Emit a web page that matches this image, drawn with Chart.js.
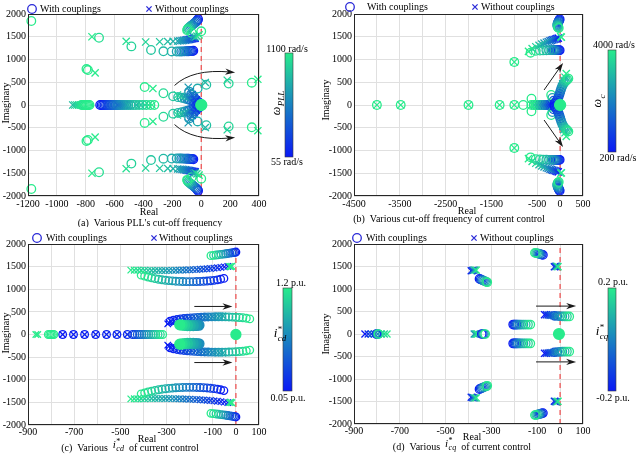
<!DOCTYPE html>
<html>
<head>
<meta charset="utf-8">
<script src="https://cdn.jsdelivr.net/npm/chart.js@4.4.1/dist/chart.umd.min.js"></script>
<style>
  body { margin: 0; background: #fff; width: 637px; height: 454px; position: relative; overflow: hidden; }
  canvas { position: absolute; }
</style>
</head>
<body>
<canvas id="ca" width="318" height="227" style="left:0;top:0"></canvas>
<canvas id="cb" width="319" height="227" style="left:318px;top:0"></canvas>
<canvas id="cc" width="318" height="227" style="left:0;top:227px"></canvas>
<canvas id="cd" width="319" height="227" style="left:318px;top:227px"></canvas>
<script>
// ticks
const yTicks = [-2000, -1500, -1000, -500, 0, 500, 1000, 1500, 2000];
const aXTicks = [-1200, -1000, -800, -600, -400, -200, 0, 200, 400];
const bXTicks = [-4500, -4000, -3500, -3000, -2500, -2000, -1500, -1000, -500, 0, 500];
const bXLabels = [-4500, -3500, -2500, -1500, -500, 0, 500];
const cdXTicks = [-900, -800, -700, -600, -500, -400, -300, -200, -100, 0, 100];
const cdXLabels = [-900, -700, -500, -300, -100, 0, 100];

// pole loci, upper half plane + real axis (conjugates are mirrored when drawn)
// order of each list: low parameter (blue) -> high parameter (green)

// (a) PLL cut-off frequency 55 .. 1100 rad/s
const aCirc1180 = [[-55,1192],[-62,1189],[-70,1186],[-78,1184],[-86,1182],[-95,1181],[-104,1180],[-114,1179],[-125,1178],[-138,1177],[-152,1176],[-170,1176],[-205,1177],[-262,1180],[-348,1210],[-484,1288],[-708,1478],[-1177,1846]];
const aCross1400 = [[-42,1470],[-50,1463],[-58,1457],[-66,1451],[-74,1446],[-82,1441],[-91,1436],[-100,1431],[-110,1426],[-121,1421],[-133,1416],[-147,1411],[-163,1406],[-195,1400],[-232,1395],[-288,1390],[-385,1385],[-520,1400],[-757,1500]];
const aCircTop = [[-22,1885],[-26,1865],[-31,1845],[-37,1825],[-44,1805],[-52,1785],[-60,1765],[-68,1745],[-76,1725],[-84,1705],[-90,1685],[-95,1665],[-98,1645]];
const aCircTop2 = [[-65,1585],[0,1620]];
const aCrossTop = [[-55,1500],[-42,1492],[-30,1515],[-15,1540]];
const aCircV1 = [[-12,20],[-22,35],[-35,55],[-50,75],[-65,95],[-80,112],[-96,128],[-114,143],[-135,158],[-160,172],[-195,190],[-262,258],[-392,395]];
const aCircV2 = [[-10,30],[-15,50],[-28,90],[-42,135],[-56,185],[-70,235],[-84,295],[-25,362],[35,445],[190,470],[350,490]];
const aCrossV1 = [[-15,25],[-28,45],[-45,72],[-62,100],[-80,126],[-98,150],[-118,172],[-140,195],[-165,220],[-335,362]];
const aCrossV2 = [[-20,62],[-34,112],[-48,168],[-62,228],[-76,298],[-90,390],[28,495],[180,545],[392,565]];
const aCircRealX = [-700,-690,-680,-670,-660,-650,-640,-630,-620,-610,-600,-590,-580,-570,-560,-548,-535,-520,-505,-490,-472,-452,-430,-405,-380,-352,-325];
const aCrossRealX = [-580,-565,-550,-535,-520,-505,-450,-420,-390,-365,-340];
const aCirc800X = [-830,-822,-814,-806,-798,-790,-782,-774];
const aCross880X = [-890,-876,-862,-848,-834];
const aCirc790 = [[-795,790],[-785,768]];
const aCross790 = [[-735,705]];
const aDot0 = [[0,0]];
const aArrows = [[[-185,430],[-60,800],[235,715]]];

// (b) current-control cut-off frequency 200 .. 4000 rad/s
const bCircFar = [[-4000,0],[-3480,0],[-2000,0],[-1320,0],[-1000,0],[-805,0],[-1000,945]];
const bCrossFar = [[-4000,0],[-3480,0],[-2000,0],[-1320,0],[-1000,0],[-1000,945]];
const bCircRowX = [-170,-195,-220,-245,-270,-295,-320,-345,-370,-400,-430,-460,-495,-530,-575,-625];
const bCrossRowX = [-190,-240,-290,-340,-390,-440,-500,-560,-620];
const bCircOff = [[-625,140]];
const bCirc1200 = [[-10,1205],[-28,1205],[-46,1205],[-64,1205],[-82,1205],[-100,1205],[-120,1205],[-140,1205],[-160,1205],[-190,1205],[-240,1205],[-300,1203],[-370,1200],[-440,1198],[-530,1190],[-645,1150]];
const bCross1400 = [[-40,1470],[-70,1460],[-100,1450],[-130,1440],[-160,1430],[-190,1420],[-220,1410],[-260,1395],[-300,1380],[-350,1360],[-400,1340],[-460,1312],[-530,1280],[-610,1240],[-690,1180]];
const bCircTop = [[-10,1885],[-18,1865],[-28,1845],[-38,1825],[-48,1805],[-55,1785],[-60,1765],[-60,1745],[-55,1725],[-45,1705],[-30,1690]];
const bCrossTop = [[15,1500],[28,1490]];
const bCircV = [[-120,30],[-95,60],[-70,100],[-48,145],[-28,195],[-10,245],[5,295],[20,345],[38,395],[58,440],[80,480],[105,510],[130,535],[155,555],[180,580]];
const bCircV2 = [[-110,45],[-140,95],[-168,155],[-195,222]];
const bCrossV = [[-100,40],[-72,90],[-48,140],[-28,200],[-8,260],[12,330],[34,400],[58,470],[82,540],[108,610],[135,690]];
const bDot0 = [[0,0]];
const bArrows = [[[-350,330],[65,925]]];

// (c) i*cd 0.05 .. 1.2 p.u.
const cCircTop = [[0,1822],[-5,1816],[-11,1810],[-18,1804],[-26,1798],[-35,1791],[-44,1784],[-54,1777],[-64,1770],[-75,1763],[-86,1756],[-97,1749],[-108,1742]];
const cCrossTop = [[-28,1505],[-22,1498],[-18,1508]];
const cCross1400 = [[-35,1505],[-50,1494],[-65,1484],[-80,1475],[-95,1467],[-110,1460],[-125,1454],[-140,1448],[-155,1443],[-170,1438],[-185,1434],[-200,1430],[-215,1427],[-230,1424],[-245,1421],[-260,1419],[-275,1417],[-290,1416],[-305,1415],[-320,1415],[-335,1415],[-350,1415],[-365,1416],[-380,1417],[-395,1418],[-410,1419],[-425,1420],[-440,1421],[-455,1422]];
const cCirc1200 = [[-52,1240],[-66,1222],[-80,1208],[-95,1197],[-110,1188],[-125,1181],[-140,1176],[-155,1172],[-170,1170],[-185,1168],[-200,1168],[-215,1168],[-230,1170],[-245,1173],[-260,1178],[-275,1184],[-290,1191],[-305,1199],[-320,1209],[-335,1221],[-350,1235],[-365,1251],[-380,1270],[-395,1290],[-410,1312]];
const cCircBlueX = [-750,-703,-655,-607,-560,-515,-470];
const cCircRowX = [-447,-437,-427,-417,-407,-397,-387,-377,-367,-357,-347,-337,-327,-317];
const cCircGreenX = [-812,-806,-800,-794,-788];
const cCrossGreenX = [-866,-858];
const cCircMid = [[-285,295],[-270,315],[-255,330],[-240,343],[-225,353],[-210,361],[-195,368],[-180,374],[-165,379],[-150,383],[-135,386],[-120,388],[-105,390],[-90,391],[-75,391],[-60,391],[-45,390],[-30,388],[-15,385],[0,381],[15,376],[30,370],[45,360],[60,345]];
const cCrossMid = [[-295,235],[-290,262],[-280,287],[-266,307],[-251,322],[-236,334],[-221,344],[-206,353],[-191,361],[-176,368],[-161,374],[-146,380],[-131,386],[-116,391],[-101,396],[-86,400],[-71,404],[-56,408]];
const cComet = [[-160,205],[-172,201],[-185,198],[-198,197],[-210,199],[-222,203],[-233,208],[-243,214]];
const cDot0 = [[0,0]];
const cArrows = [[[-180,620],[-15,620]]];

// (d) i*cq -0.2 .. 0.2 p.u.
const dCircTop = [[-75,1758],[-80,1765],[-85,1772],[-90,1779],[-95,1786],[-100,1792],[-105,1797],[-110,1802]];
const dCrossTop = [[-25,1495],[-21,1502],[-17,1508],[-13,1502],[-9,1496]];
const dCross1400 = [[-388,1405],[-383,1412],[-378,1418],[-372,1422],[-366,1418]];
const dCirc1200 = [[-352,1225],[-347,1214],[-342,1203],[-337,1192],[-332,1181],[-327,1170],[-322,1160],[-318,1150]];
const dCirc200 = [[-205,210],[-200,210],[-195,210],[-190,210],[-185,210],[-178,210],[-170,210],[-160,210],[-150,210],[-140,210],[-130,210]];
const dCrossReal800X = [-852,-838,-824,-810,-796,-782,-768,-756];
const dCircReal800X = [-802,-799,-796,-793];
const dCrossReal370X = [-375,-370,-365,-360];
const dCircReal330X = [-342,-337,-332,-327];
const dCrossMid = [[-68,430],[-60,426],[-52,422],[-44,418],[-36,414],[-28,410],[-20,406],[-12,402]];
const dCircMid = [[-25,405],[-12,400],[0,395],[10,392],[20,390],[30,390],[40,390]];
const dDot0 = [[-5,0]];
const dArrows = [[[-105,620],[70,620]]];

const FONT = "'Liberation Serif', 'Times New Roman', serif";
Chart.defaults.font.family = FONT;
Chart.defaults.font.size = 10;
Chart.defaults.color = '#000';

function winter(t) {
    return 'rgb(' + Math.round(10 + 30 * t) + ',' + Math.round(25 + 210 * t) + ',' + Math.round(245 - 105 * t) + ')';
}
const onAxis = xs => xs.map(v => [v, 0]);

// one scatter dataset per locus, lower half mirrored
function buildSet(pts, t0, t1, kind, r, idx) {
    const n = pts.length;
    const cols = pts.map((p, i) => winter(n > 1 ? t0 + (t1 - t0) * i / (n - 1) : t1));
    const data = [], colors = [];
    pts.forEach((p, i) => { data.push({ x: p[0], y: p[1] }); colors.push(cols[i]); });
    pts.forEach((p, i) => { if (p[1] !== 0) { data.push({ x: p[0], y: -p[1] }); colors.push(cols[i]); } });
    let rad = r;
    if (kind === 'x') rad = r + 0.8;
    if (kind === 'dot') rad = r + 1.2;
    return {
        data: data,
        order: -idx,
        clip: 6,
        pointStyle: kind === 'x' ? 'crossRot' : 'circle',
        pointRadius: rad,
        pointHoverRadius: rad,
        pointBorderWidth: 1.3,
        pointBorderColor: colors,
        pointBackgroundColor: kind === 'dot' ? colors : 'rgba(0,0,0,0)'
    };
}

function drawSym(ctx, x, y, base, sup, sub, size, dry) {
    ctx.textAlign = 'left';
    ctx.textBaseline = 'alphabetic';
    ctx.font = 'italic ' + size + 'px ' + FONT;
    const wb = ctx.measureText(base).width;
    if (!dry) ctx.fillText(base, x, y);
    const s = Math.round(size * 0.72);
    let w2 = 0;
    if (sup) {
        ctx.font = s + 'px ' + FONT;
        if (!dry) ctx.fillText(sup, x + wb + 0.5, y - size * 0.4);
        w2 = ctx.measureText(sup).width;
    }
    if (sub) {
        ctx.font = 'italic ' + s + 'px ' + FONT;
        if (!dry) ctx.fillText(sub, x + wb + 0.5, y + size * 0.3);
        w2 = Math.max(w2, ctx.measureText(sub).width);
    }
    return wb + 0.5 + w2;
}

function makeExtras(cfg) {
    return {
        id: 'extras',
        afterDraw(chart) {
            const ctx = chart.ctx, a = chart.chartArea;
            const xs = chart.scales.x, ys = chart.scales.y;
            ctx.save();
            // axes box
            ctx.strokeStyle = '#262626';
            ctx.lineWidth = 1;
            ctx.strokeRect(Math.round(a.left) + 0.5, Math.round(a.top) + 0.5, Math.round(a.width) - 1, Math.round(a.height) - 1);

            // arrows (data coordinates, mirrored)
            ctx.strokeStyle = '#1a1a1a';
            ctx.fillStyle = '#1a1a1a';
            ctx.lineWidth = 1;
            cfg.arrows.forEach(arr => [1, -1].forEach(sg => {
                const p = arr.map(q => [xs.getPixelForValue(q[0]), ys.getPixelForValue(sg * q[1])]);
                const e = p[p.length - 1], b = p[p.length - 2];
                const ang = Math.atan2(e[1] - b[1], e[0] - b[0]);
                const c = Math.cos(ang), s = Math.sin(ang);
                ctx.beginPath();
                ctx.moveTo(p[0][0], p[0][1]);
                if (p.length === 3) ctx.quadraticCurveTo(p[1][0], p[1][1], e[0] - 5 * c, e[1] - 5 * s);
                else ctx.lineTo(e[0] - 5 * c, e[1] - 5 * s);
                ctx.stroke();
                ctx.beginPath();
                ctx.moveTo(e[0], e[1]);
                ctx.lineTo(e[0] - 10 * c + 3.2 * s, e[1] - 10 * s - 3.2 * c);
                ctx.lineTo(e[0] - 7 * c, e[1] - 7 * s);
                ctx.lineTo(e[0] - 10 * c - 3.2 * s, e[1] - 10 * s + 3.2 * c);
                ctx.closePath();
                ctx.fill();
            }));

            // colorbar
            const cb = cfg.cb;
            const g = ctx.createLinearGradient(0, cb.y1, 0, cb.y0);
            for (let i = 0; i <= 10; i++) g.addColorStop(i / 10, winter(i / 10));
            ctx.fillStyle = g;
            ctx.fillRect(cb.x0, cb.y0, cb.x1 - cb.x0, cb.y1 - cb.y0);
            ctx.strokeStyle = '#3a3a3a';
            ctx.lineWidth = 0.6;
            ctx.strokeRect(cb.x0, cb.y0, cb.x1 - cb.x0, cb.y1 - cb.y0);
            ctx.fillStyle = '#000';
            ctx.font = '10px ' + FONT;
            ctx.textAlign = 'center';
            ctx.textBaseline = 'middle';
            ctx.fillText(cb.top, cb.tx, cb.ty);
            ctx.fillText(cb.bot, cb.bx, cb.by);

            // colorbar symbol
            const sy = cfg.sym;
            ctx.save();
            ctx.translate(sy.x, sy.y);
            if (sy.rot) ctx.rotate(-Math.PI / 2);
            const w = drawSym(ctx, 0, 0, sy.base, sy.sup, sy.sub, sy.size, true);
            drawSym(ctx, -w / 2, sy.rot ? 3 : 0, sy.base, sy.sup, sy.sub, sy.size, false);
            ctx.restore();

            // legend
            const lg = cfg.legend;
            ctx.strokeStyle = '#2a2ad8';
            ctx.lineWidth = 1.3;
            ctx.beginPath();
            ctx.arc(lg.cx, lg.y, 4.3, 0, Math.PI * 2);
            ctx.stroke();
            ctx.beginPath();
            ctx.moveTo(lg.xx - 2.6, lg.y - 2.6); ctx.lineTo(lg.xx + 2.6, lg.y + 2.6);
            ctx.moveTo(lg.xx - 2.6, lg.y + 2.6); ctx.lineTo(lg.xx + 2.6, lg.y - 2.6);
            ctx.stroke();
            ctx.fillStyle = '#000';
            ctx.font = '10px ' + FONT;
            ctx.textAlign = 'left';
            ctx.textBaseline = 'middle';
            ctx.fillText('With couplings', lg.t1, lg.y);
            ctx.fillText('Without couplings', lg.t2, lg.y);

            // axis titles
            ctx.textAlign = 'center';
            ctx.fillText('Real', cfg.realPos[0], cfg.realPos[1]);
            ctx.save();
            ctx.translate(cfg.imagPos[0], cfg.imagPos[1]);
            ctx.rotate(-Math.PI / 2);
            ctx.fillText('Imaginary', 0, 0);
            ctx.restore();

            // caption
            const segs = cfg.caption;
            let total = 0;
            segs.forEach(sg => {
                if (typeof sg === 'string') { ctx.font = '10px ' + FONT; total += ctx.measureText(sg).width; }
                else total += drawSym(ctx, 0, 0, sg[0], sg[1], sg[2], 11, true);
            });
            let cx = cfg.capPos[0] - total / 2;
            segs.forEach(sg => {
                ctx.fillStyle = '#000';
                if (typeof sg === 'string') {
                    ctx.font = '10px ' + FONT;
                    ctx.textAlign = 'left';
                    ctx.textBaseline = 'alphabetic';
                    ctx.fillText(sg, cx, cfg.capPos[1]);
                    cx += ctx.measureText(sg).width;
                } else {
                    cx += drawSym(ctx, cx, cfg.capPos[1] - 3, sg[0], sg[1], sg[2], 11, false);
                }
            });
            ctx.restore();
        }
    };
}

function makePanel(id, cfg) {
    const sets = [{
        data: [{ x: 0, y: -2000 }, { x: 0, y: 2000 }],
        showLine: true,
        borderColor: 'rgba(240,70,70,0.9)',
        borderDash: [5, 4],
        borderWidth: 1.3,
        pointRadius: 0,
        order: 100
    }];
    cfg.series.forEach((s, i) => sets.push(buildSet(s[0], s[1], s[2], s[3], cfg.r, i)));
    return new Chart(document.getElementById(id), {
        type: 'scatter',
        data: { datasets: sets },
        options: {
            responsive: false,
            animation: false,
            events: [],
            layout: { padding: { left: 0, top: cfg.area.top, right: cfg.W - cfg.area.right, bottom: 0 } },
            scales: {
                x: {
                    type: 'linear',
                    min: cfg.xTicks[0],
                    max: cfg.xTicks[cfg.xTicks.length - 1],
                    afterBuildTicks: s => { s.ticks = cfg.xTicks.map(v => ({ value: v })); },
                    afterFit: s => { s.height = cfg.H - cfg.area.bottom; },
                    grid: { color: '#e0e0e0', drawTicks: false },
                    border: { display: false },
                    ticks: {
                        padding: cfg.tickPad, autoSkip: false, maxRotation: 0,
                        callback: v => cfg.xLabels.includes(v) ? String(v) : ''
                    }
                },
                y: {
                    type: 'linear',
                    min: -2000,
                    max: 2000,
                    afterBuildTicks: s => { s.ticks = yTicks.map(v => ({ value: v })); },
                    afterFit: s => { s.width = cfg.area.left; },
                    grid: { color: '#e0e0e0', drawTicks: false },
                    border: { display: false },
                    ticks: { padding: 2, autoSkip: false, callback: v => String(v) }
                }
            },
            plugins: { legend: { display: false }, tooltip: { enabled: false } }
        },
        plugins: [makeExtras(cfg)]
    });
}

makePanel('ca', {
    W: 318, H: 227, r: 4.3, tickPad: 2,
    area: { left: 28, right: 259, top: 14, bottom: 196 },
    xTicks: aXTicks, xLabels: aXTicks,
    series: [
        [onAxis(aCircRealX), 0, 1, 'o'],
        [onAxis(aCrossRealX), 0.4, 1, 'x'],
        [onAxis(aCirc800X), 1, 1, 'o'],
        [onAxis(aCross880X), 0.8, 1, 'x'],
        [aCirc790, 1, 1, 'o'],
        [aCross790, 1, 1, 'x'],
        [aCirc1180, 0, 1, 'o'],
        [aCross1400, 0, 1, 'x'],
        [aCircTop, 0, 1, 'o'],
        [aCircTop2, 1, 1, 'o'],
        [aCrossTop, 0.6, 1, 'x'],
        [aCircV1, 0, 1, 'o'],
        [aCrossV1, 0, 1, 'x'],
        [aCircV2, 0, 1, 'o'],
        [aCrossV2, 0, 1, 'x'],
        [aDot0, 1, 1, 'dot']
    ],
    arrows: aArrows,
    cb: { x0: 285, x1: 293, y0: 53, y1: 157, top: '1100 rad/s', tx: 287, ty: 49, bot: '55 rad/s', bx: 287, by: 162 },
    sym: { base: 'ω', sub: 'PLL', x: 277, y: 103, size: 12, rot: true },
    legend: { cx: 32, xx: 149, y: 9, t1: 40, t2: 155 },
    realPos: [149, 212], imagPos: [6, 103],
    caption: ['(a)  Various PLL\'s cut-off frequency'], capPos: [150, 226]
});

makePanel('cb', {
    W: 319, H: 227, r: 4.3, tickPad: 2,
    area: { left: 36, right: 265, top: 14, bottom: 196 },
    xTicks: bXTicks, xLabels: bXLabels,
    series: [
        [onAxis(bCircRowX), 0, 1, 'o'],
        [onAxis(bCrossRowX), 0, 1, 'x'],
        [bCircFar, 1, 1, 'o'],
        [bCrossFar, 1, 1, 'x'],
        [bCircOff, 1, 1, 'o'],
        [bCirc1200, 0, 1, 'o'],
        [bCross1400, 0, 1, 'x'],
        [bCircTop, 0, 1, 'o'],
        [bCrossTop, 1, 1, 'x'],
        [bCircV2, 0, 1, 'o'],
        [bCrossV, 0, 1, 'x'],
        [bCircV, 0, 1, 'o'],
        [bDot0, 1, 1, 'dot']
    ],
    arrows: bArrows,
    cb: { x0: 290, x1: 298, y0: 50, y1: 152, top: '4000 rad/s', tx: 296, ty: 45, bot: '200 rad/s', bx: 300, by: 158 },
    sym: { base: 'ω', sub: 'c', x: 280, y: 101, size: 12, rot: true },
    legend: { cx: 32, xx: 157, y: 7, t1: 49, t2: 163 },
    realPos: [149, 211], imagPos: [8, 100],
    caption: ['(b)  Various cut-off frequency of current control'], capPos: [131, 222]
});

makePanel('cc', {
    W: 318, H: 227, r: 3.8, tickPad: 1,
    area: { left: 28, right: 259, top: 17, bottom: 198 },
    xTicks: cdXTicks, xLabels: cdXLabels,
    series: [
        [onAxis(cCircBlueX), 0, 0.08, 'o'],
        [onAxis(cCircBlueX), 0, 0.08, 'x'],
        [onAxis(cCircRowX), 0.15, 1, 'o'],
        [onAxis(cCircGreenX), 1, 1, 'o'],
        [onAxis(cCrossGreenX), 1, 1, 'x'],
        [cCross1400, 0, 1, 'x'],
        [cCirc1200, 0, 1, 'o'],
        [cCircTop, 0, 1, 'o'],
        [cCrossTop, 1, 1, 'x'],
        [cCrossMid, 0, 0.7, 'x'],
        [cCircMid, 0, 1, 'o'],
        [cComet, 0.55, 1, 'dot'],
        [cDot0, 1, 1, 'dot']
    ],
    arrows: cArrows,
    cb: { x0: 283, x1: 292, y0: 61, y1: 164, top: '1.2 p.u.', tx: 291, ty: 56, bot: '0.05 p.u.', bx: 288, by: 171 },
    sym: { base: 'i', sup: '*', sub: 'cd', x: 280, y: 110, size: 13, rot: false },
    legend: { cx: 37, xx: 154, y: 11, t1: 46, t2: 159 },
    realPos: [147, 212], imagPos: [6, 106],
    caption: ['(c)  Various  ', ['i', '*', 'cd'], '  of current control'], capPos: [130, 224]
});

makePanel('cd', {
    W: 319, H: 227, r: 4.2, tickPad: 1,
    area: { left: 36, right: 265, top: 17, bottom: 197 },
    xTicks: cdXTicks, xLabels: cdXLabels,
    series: [
        [onAxis(dCrossReal800X), 0, 1, 'x'],
        [onAxis(dCircReal800X), 0, 1, 'o'],
        [onAxis(dCrossReal370X), 0.6, 1, 'x'],
        [onAxis(dCircReal330X), 0, 1, 'o'],
        [dCross1400, 0, 1, 'x'],
        [dCirc1200, 0, 1, 'o'],
        [dCircTop, 0, 1, 'o'],
        [dCrossTop, 0, 1, 'x'],
        [dCirc200, 0, 1, 'o'],
        [dCrossMid, 0, 0.6, 'x'],
        [dCircMid, 0.3, 1, 'o'],
        [dDot0, 1, 1, 'dot']
    ],
    arrows: dArrows,
    cb: { x0: 290, x1: 298, y0: 61, y1: 164, top: '0.2 p.u.', tx: 295, ty: 55, bot: '-0.2 p.u.', bx: 295, by: 171 },
    sym: { base: 'i', sup: '*', sub: 'cq', x: 284, y: 108, size: 13, rot: false },
    legend: { cx: 39, xx: 156, y: 11, t1: 48, t2: 162 },
    realPos: [154, 210], imagPos: [8, 107],
    caption: ['(d)  Various  ', ['i', '*', 'cq'], '  of current control'], capPos: [144, 223]
});
</script>
</body>
</html>
